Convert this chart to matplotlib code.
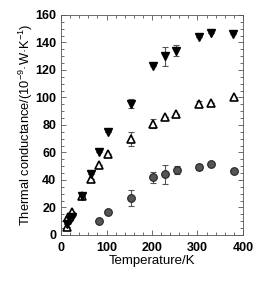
import numpy as np
import matplotlib.pyplot as plt
from matplotlib.ticker import MultipleLocator

plt.rcParams['font.family'] = ['Liberation Sans', 'DejaVu Sans']
plt.rcParams['mathtext.fontset'] = 'custom'
plt.rcParams['mathtext.rm'] = 'Liberation Sans'

# filled down-triangles
t_fill = [12, 20, 25, 45, 65, 83, 104, 154, 203, 229, 253, 304, 329, 379]
k_fill = [8, 11, 13, 28, 44, 60, 74.5, 95.5, 123, 130, 134, 144, 146.5, 146]
e_fill = [0, 0, 0, 0, 0, 0, 0, 3, 0, 7, 4, 0, 0, 0]

# open up-triangles
t_open = [12, 16, 25, 45, 65, 83, 104, 154, 203, 229, 253, 304, 329, 380]
k_open = [6, 13, 17, 28, 41, 51, 59, 69.5, 81, 86, 88, 95.5, 96, 100]
e_open = [0, 0, 0, 0, 0, 0, 0, 5, 3, 0, 0, 2, 0, 0]

# circles
t_circ = [83, 104, 154, 203, 229, 254, 304, 329, 380]
k_circ = [10, 16.5, 27, 42, 44, 47, 49.5, 51.5, 46.5]
e_circ = [0, 0, 6, 4, 7, 3, 2, 0, 0]

fig = plt.figure(figsize=(2.69, 2.81), dpi=100)
ax = fig.add_axes([0.227, 0.164, 0.676, 0.783])

ekw = dict(fmt='none', ecolor='#555555', elinewidth=0.8, capsize=2, capthick=0.8)
ax.errorbar(t_fill, k_fill, yerr=e_fill, **ekw)
ax.errorbar(t_open, k_open, yerr=e_open, **ekw)
ax.errorbar(t_circ, k_circ, yerr=e_circ, **ekw)

ax.plot(t_circ, k_circ, 'o', ms=5.5, mfc='#555555', mec='#222222', mew=0.8, ls='none')
ax.plot(t_open, k_open, '^', ms=5.5, mfc='white', mec='black', mew=1.2, ls='none')
ax.plot(t_fill, k_fill, 'v', ms=5.5, mfc='black', mec='black', ls='none')

ax.set_xlim(0, 400)
ax.set_ylim(0, 160)
ax.xaxis.set_major_locator(MultipleLocator(100))
ax.xaxis.set_minor_locator(MultipleLocator(20))
ax.yaxis.set_major_locator(MultipleLocator(20))
ax.yaxis.set_minor_locator(MultipleLocator(5))
ax.tick_params(which='both', direction='in', top=True, right=True, width=0.6, color='#555555')
ax.tick_params(which='major', length=3.5, labelsize=9)
ax.tick_params(axis='x', which='major', pad=5)
ax.tick_params(which='minor', length=2)
for lab in ax.get_xticklabels() + ax.get_yticklabels():
    lab.set_fontweight('bold')
for s in ax.spines.values():
    s.set_linewidth(0.6)
    s.set_color('#555555')

ax.set_xlabel('Temperature/K', fontsize=9.5, labelpad=1)
ax.set_ylabel('Thermal conductance/(10$^{-9}$·W·K$^{-1}$)', fontsize=9.3, labelpad=0)

fig.savefig('out.png', dpi=100)
